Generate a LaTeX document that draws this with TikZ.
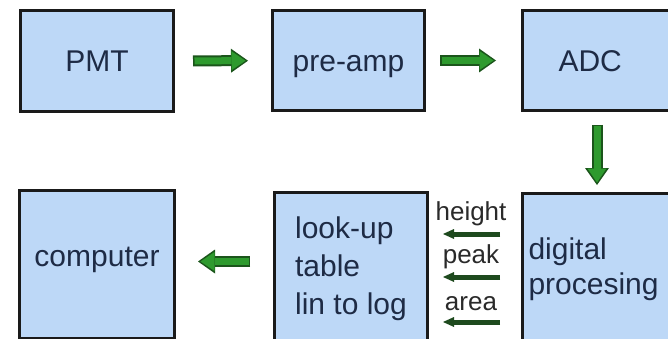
\documentclass[tikz,border=0pt]{standalone}
\usepackage{fontspec}
\setmainfont{Liberation Sans}
\usetikzlibrary{arrows.meta,calc}

\definecolor{boxfill}{HTML}{BDD8F7}
\definecolor{boxline}{HTML}{1A1A1A}
\definecolor{boxtext}{HTML}{1E2B45}
\definecolor{arrowfill}{HTML}{2E9A2E}
\definecolor{arrowline}{HTML}{1B551B}
\definecolor{smallarrow}{HTML}{1E4A1E}
\definecolor{labeltext}{HTML}{2A2A2A}

\tikzset{
  stage/.style={draw=boxline, fill=boxfill, line width=3pt, anchor=north west,
    inner sep=0pt, text=boxtext, font=\fontsize{30}{38}\selectfont},
  oneline/.style={text height=22pt, text depth=0pt},
  blockout/.style={line width=11pt, draw=arrowline,
    -{Triangle[length=17pt,width=24pt,line width=0pt]}},
  blockin/.style={line width=7pt, draw=arrowfill,
    -{Triangle[length=14pt,width=19pt,line width=0pt]}},
  thinarrow/.style={line width=5pt, draw=smallarrow,
    -{Triangle[length=11pt,width=10pt,line width=0pt]}},
  sig/.style={anchor=base, text=labeltext, inner sep=0pt,
    font=\fontsize{26}{30}\selectfont},
}

\begin{document}
\begin{tikzpicture}[x=1pt, y=-1pt]
  \useasboundingbox (0,0) rectangle (668,339);
  \clip (0,0) rectangle (668,339);

  % signal chain, top row
  \node[stage, oneline, minimum width=153pt, minimum height=101pt] (pmt) at (19,9) {PMT};
  \node[stage, oneline, minimum width=152pt, minimum height=100pt] (pre) at (271,9) {pre-amp};
  \node[stage, oneline, minimum height=100pt, text width=150pt, align=left,
        inner xsep=36pt] (adc) at (521,9) {ADC};

  % bottom row
  \node[stage, minimum width=155pt, minimum height=148pt,
        text height=22pt, text depth=18pt] (comp) at (18,189) {computer};
  \node[stage, minimum width=153pt, minimum height=152pt, align=left]
        (look) at (273,191) {look-up\\table\\lin to log};
  \node[stage, minimum height=152pt, text width=170pt, align=left,
        inner xsep=6pt, font=\fontsize{30}{35}\selectfont] (dp) at (521,192)
        {digital\\procesing};

  % PMT -> pre-amp
  \draw[blockout, shorten <=18pt, shorten >=23pt] (pmt) -- (pre);
  \draw[blockin, shorten <=19.5pt, shorten >=25.5pt] (pmt) -- (pre);
  % pre-amp -> ADC
  \draw[blockout, shorten <=14pt, shorten >=25pt] (pre) -- (adc.west);
  \draw[blockin, shorten <=15.5pt, shorten >=27.5pt] (pre) -- (adc.west);

  % ADC -> digital processing
  \coordinate (adcout) at ([xshift=76pt]adc.south west);
  \coordinate (dpin) at (adcout |- dp.north);
  \draw[blockout, shorten <=13pt, shorten >=7pt] (adcout) -- (dpin);
  \draw[blockin, shorten <=14.5pt, shorten >=9.5pt] (adcout) -- (dpin);

  % look-up table -> computer
  \coordinate (lookout) at ([yshift=3pt]look.west |- comp.east);
  \coordinate (compin) at ([yshift=3pt]comp.east);
  \draw[blockout, shorten <=23pt, shorten >=22pt] (lookout) -- (compin);
  \draw[blockin, shorten <=24.5pt, shorten >=24.5pt] (lookout) -- (compin);

  % pulse parameters passed to the look-up table
  \node[sig] (height) at (471,220) {height};
  \node[sig] (peak) at (471,263) {peak};
  \node[sig] (area) at (471,310) {area};
  \coordinate (r1) at (0,234);
  \coordinate (r2) at (0,277);
  \coordinate (r3) at (0,322);
  \draw[thinarrow, shorten <=21pt, shorten >=14pt] (dp.west |- r1) -- (look.east |- r1);
  \draw[thinarrow, shorten <=21pt, shorten >=14pt] (dp.west |- r2) -- (look.east |- r2);
  \draw[thinarrow, shorten <=21pt, shorten >=14pt] (dp.west |- r3) -- (look.east |- r3);
\end{tikzpicture}
\end{document}
